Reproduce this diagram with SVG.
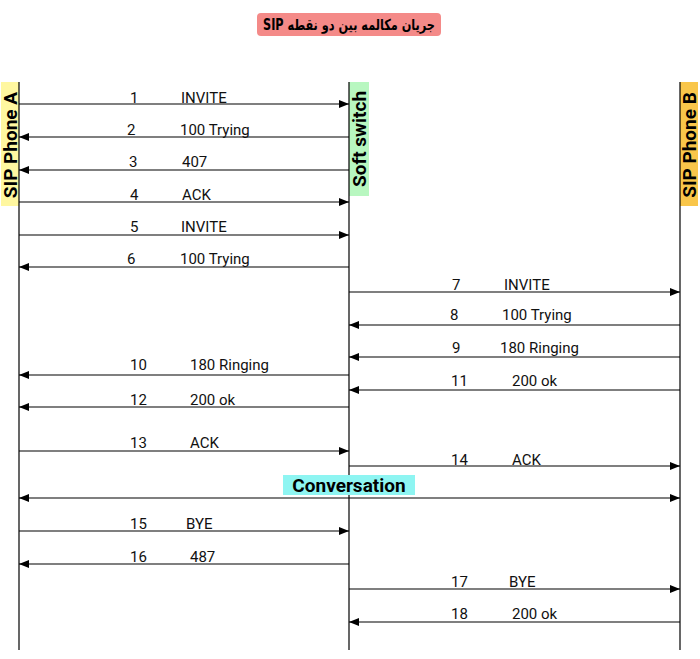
<svg xmlns="http://www.w3.org/2000/svg" width="700" height="659" viewBox="0 0 700 659">
<style>
.l{stroke:#000;stroke-width:1.2;fill:none}
.m{font-family:Roboto,"Liberation Sans",sans-serif;font-size:15px;fill:#111}
.h{font-family:Roboto,"Liberation Sans",sans-serif;font-size:19px;font-weight:bold;fill:#000}
</style>
<defs>
<marker id="a" viewBox="0 0 10 8" refX="10" refY="4" markerWidth="10" markerHeight="8" markerUnits="userSpaceOnUse" orient="auto-start-reverse"><path d="M0,0L10,4L0,8z" fill="#000"/></marker>
</defs>
<rect width="700" height="659" fill="#fff"/>
<g id="title"><rect x="257" y="13" width="184" height="23" rx="4" fill="#f48a88"/><text x="349" y="30" direction="rtl" unicode-bidi="embed" text-anchor="middle" font-family="'DejaVu Sans','Noto Sans',sans-serif" font-size="15" font-weight="bold" textLength="172" lengthAdjust="spacingAndGlyphs">جریان مکالمه بین دو نقطه SIP</text></g>
<g id="phoneA"><rect x="1" y="82" width="18" height="124" fill="#fff7a0"/><line class="l" x1="19" y1="82" x2="19" y2="650"/><text class="h" transform="translate(17,145) rotate(-90)" text-anchor="middle">SIP Phone A</text></g>
<g id="switch"><rect x="349" y="82" width="20" height="114" fill="#b8f7c0"/><line class="l" x1="349" y1="82" x2="349" y2="650"/><text class="h" transform="translate(366,139) rotate(-90)" text-anchor="middle">Soft switch</text></g>
<g id="phoneB"><rect x="680" y="82" width="18" height="124" fill="#f9c64a"/><line class="l" x1="680" y1="82" x2="680" y2="650" stroke="#777"/><text class="h" transform="translate(696,145) rotate(-90)" text-anchor="middle">SIP Phone B</text></g>
<g id="conv"><rect x="283" y="475" width="132" height="20" fill="#8ef5f2"/><text class="h" x="349" y="492" text-anchor="middle">Conversation</text></g>
<g id="connectors">
<line class="l" x1="19" y1="104" x2="349" y2="104" marker-end="url(#a)"/>
<line class="l" x1="349" y1="137" x2="19" y2="137" marker-end="url(#a)"/>
<line class="l" x1="349" y1="170" x2="19" y2="170" marker-end="url(#a)"/>
<line class="l" x1="19" y1="202" x2="349" y2="202" marker-end="url(#a)"/>
<line class="l" x1="19" y1="235" x2="349" y2="235" marker-end="url(#a)"/>
<line class="l" x1="349" y1="267" x2="19" y2="267" marker-end="url(#a)"/>
<line class="l" x1="349" y1="292" x2="680" y2="292" marker-end="url(#a)"/>
<line class="l" x1="680" y1="325" x2="349" y2="325" marker-end="url(#a)"/>
<line class="l" x1="680" y1="357" x2="349" y2="357" marker-end="url(#a)"/>
<line class="l" x1="349" y1="375" x2="19" y2="375" marker-end="url(#a)"/>
<line class="l" x1="680" y1="390" x2="349" y2="390" marker-end="url(#a)"/>
<line class="l" x1="349" y1="407" x2="19" y2="407" marker-end="url(#a)"/>
<line class="l" x1="19" y1="451" x2="349" y2="451" marker-end="url(#a)"/>
<line class="l" x1="349" y1="466" x2="680" y2="466" marker-end="url(#a)"/>
<line class="l" x1="19" y1="498" x2="680" y2="498" marker-start="url(#a)" marker-end="url(#a)"/>
<line class="l" x1="19" y1="531" x2="349" y2="531" marker-end="url(#a)"/>
<line class="l" x1="349" y1="564" x2="19" y2="564" marker-end="url(#a)"/>
<line class="l" x1="349" y1="589" x2="680" y2="589" marker-end="url(#a)"/>
<line class="l" x1="680" y1="622" x2="349" y2="622" marker-end="url(#a)"/>
</g>
<g id="labels">
<text class="m" x="130" y="103">1</text><text class="m" x="181" y="103">INVITE</text>
<text class="m" x="127" y="135">2</text><text class="m" x="180" y="135">100 Trying</text>
<text class="m" x="129" y="167">3</text><text class="m" x="182" y="167">407</text>
<text class="m" x="130" y="200">4</text><text class="m" x="182" y="200">ACK</text>
<text class="m" x="130" y="232">5</text><text class="m" x="181" y="232">INVITE</text>
<text class="m" x="127" y="264">6</text><text class="m" x="180" y="264">100 Trying</text>
<text class="m" x="452" y="290">7</text><text class="m" x="504" y="290">INVITE</text>
<text class="m" x="450" y="320">8</text><text class="m" x="502" y="320">100 Trying</text>
<text class="m" x="452" y="353">9</text><text class="m" x="500" y="353">180 Ringing</text>
<text class="m" x="130" y="370">10</text><text class="m" x="190" y="370">180 Ringing</text>
<text class="m" x="451" y="386">11</text><text class="m" x="512" y="386">200 ok</text>
<text class="m" x="130" y="405">12</text><text class="m" x="190" y="405">200 ok</text>
<text class="m" x="130" y="448">13</text><text class="m" x="190" y="448">ACK</text>
<text class="m" x="451" y="465">14</text><text class="m" x="512" y="465">ACK</text>
<text class="m" x="130" y="529">15</text><text class="m" x="186" y="529">BYE</text>
<text class="m" x="130" y="562">16</text><text class="m" x="190" y="562">487</text>
<text class="m" x="451" y="587">17</text><text class="m" x="509" y="587">BYE</text>
<text class="m" x="451" y="619">18</text><text class="m" x="512" y="619">200 ok</text>
</g>
</svg>
